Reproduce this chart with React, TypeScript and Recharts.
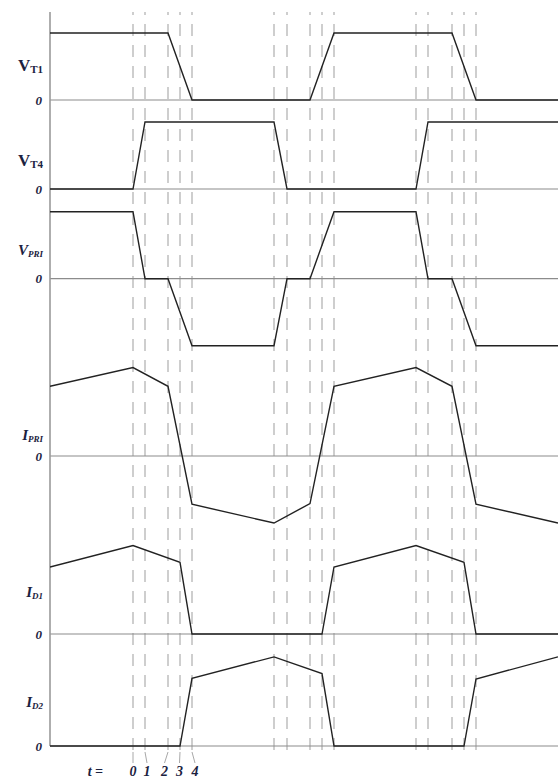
import React from 'react';
import { ComposedChart, Line, XAxis, YAxis, ReferenceLine } from 'recharts';

// ---------- data ----------
// time axis in arbitrary units, t0 of the first switching event = 0
const T_START = -83;
const T_END = 425;
const switchTimes = [0, 12, 35, 47, 59, 141, 154, 177, 189, 201, 283, 295, 319, 331, 343];
const instantLabels = ['0', '1', '2', '3', '4'];

const vT1 = [
  { t: -83, v: 1 }, { t: 35, v: 1 }, { t: 59, v: 0 }, { t: 177, v: 0 },
  { t: 201, v: 1 }, { t: 319, v: 1 }, { t: 343, v: 0 }, { t: 425, v: 0 },
];
const vT4 = [
  { t: -83, v: 0 }, { t: 0, v: 0 }, { t: 12, v: 1 }, { t: 141, v: 1 },
  { t: 154, v: 0 }, { t: 283, v: 0 }, { t: 295, v: 1 }, { t: 425, v: 1 },
];
const vPri = [
  { t: -83, v: 1 }, { t: 0, v: 1 }, { t: 12, v: 0 }, { t: 35, v: 0 }, { t: 59, v: -1 },
  { t: 141, v: -1 }, { t: 154, v: 0 }, { t: 177, v: 0 }, { t: 201, v: 1 },
  { t: 283, v: 1 }, { t: 295, v: 0 }, { t: 319, v: 0 }, { t: 343, v: -1 }, { t: 425, v: -1 },
];
const iPri = [
  { t: -83, v: 1.04 }, { t: 0, v: 1.32 }, { t: 35, v: 1.04 }, { t: 59, v: -0.72 },
  { t: 141, v: -1.0 }, { t: 177, v: -0.71 }, { t: 201, v: 1.04 }, { t: 283, v: 1.32 },
  { t: 319, v: 1.04 }, { t: 343, v: -0.72 }, { t: 425, v: -1.0 },
];
const iD1 = [
  { t: -83, v: 1.0 }, { t: 0, v: 1.32 }, { t: 47, v: 1.07 }, { t: 59, v: 0 },
  { t: 189, v: 0 }, { t: 201, v: 1.0 }, { t: 283, v: 1.32 }, { t: 331, v: 1.07 },
  { t: 343, v: 0 }, { t: 425, v: 0 },
];
const iD2 = [
  { t: -83, v: 0 }, { t: 47, v: 0 }, { t: 59, v: 1.01 }, { t: 141, v: 1.33 },
  { t: 189, v: 1.08 }, { t: 201, v: 0 }, { t: 331, v: 0 }, { t: 343, v: 1.0 },
  { t: 425, v: 1.33 },
];

// ---------- layout ----------
const W = 558;
const H = 779;
const PLOT_LEFT = 50;
const PLOT_TOP = 12;
const PLOT_BOTTOM = 750;
const PX_PER_UNIT = 67;
const LABEL_COLOR = '#1b2240';
const FONT = '"Liberation Serif", "DejaVu Serif", serif';

type Panel = {
  id: string;
  main: string;
  sub: string;
  italic: boolean;
  baseline: number; // pixel of zero line
  namePos: number; // value (units) at which the name sits
  data: { t: number; v: number }[];
};

const panels: Panel[] = [
  { id: 'vT1', main: 'V', sub: 'T1', italic: false, baseline: 100, namePos: 0.5, data: vT1 },
  { id: 'vT4', main: 'V', sub: 'T4', italic: false, baseline: 189, namePos: 0.42, data: vT4 },
  { id: 'vPri', main: 'V', sub: 'PRI', italic: true, baseline: 278.7, namePos: 0.43, data: vPri },
  { id: 'iPri', main: 'I', sub: 'PRI', italic: true, baseline: 456, namePos: 0.31, data: iPri },
  { id: 'iD1', main: 'I', sub: 'D1', italic: true, baseline: 634, namePos: 0.63, data: iD1 },
  { id: 'iD2', main: 'I', sub: 'D2', italic: true, baseline: 746, namePos: 0.66, data: iD2 },
];

const domainFor = (b: number): [number, number] => [
  -(PLOT_BOTTOM - b) / PX_PER_UNIT,
  (b - PLOT_TOP) / PX_PER_UNIT,
];

const makeZeroLabel = (p: Panel) => (props: any) => {
  const vb = props.viewBox || {};
  const x = (vb.x ?? PLOT_LEFT) - 8;
  const y = vb.y ?? 0;
  const ny = y - p.namePos * PX_PER_UNIT;
  return (
    <g>
      <text x={x} y={y} dy="0.36em" textAnchor="end" fontFamily={FONT} fontSize={13}
        fontWeight="bold" fontStyle="italic" fill={LABEL_COLOR}>0</text>
      <text x={x + 1} y={ny} dy="0.3em" textAnchor="end" fontFamily={FONT} fontWeight="bold"
        fontStyle={p.italic ? 'italic' : 'normal'} fill={LABEL_COLOR}>
        <tspan fontSize={p.italic ? 15 : 17}>{p.main}</tspan>
        <tspan fontSize={p.italic ? 9 : 11} dy={2}>{p.sub}</tspan>
      </text>
    </g>
  );
};

const labelDx = [0, 2, -3.5, -0.5, 3];

const makeInstantLabel = (i: number) => (props: any) => {
  const vb = props.viewBox || {};
  const x = vb.x ?? 0;
  const bottom = (vb.y ?? 0) + (vb.height ?? 0);
  const dx = labelDx[i];
  return (
    <g>
      <line x1={x} y1={bottom + 2} x2={x + dx} y2={bottom + 13} stroke="#a8a8a8" strokeWidth={1} />
      <text x={x + dx} y={bottom + 26} textAnchor="middle" fontFamily={FONT} fontSize={14}
        fontWeight="bold" fontStyle="italic" fill={LABEL_COLOR}>{instantLabels[i]}</text>
      {i === 0 && (
        <text x={x - 30} y={bottom + 26} textAnchor="end" fontFamily={FONT} fontSize={14}
          fontWeight="bold" fontStyle="italic" fill={LABEL_COLOR}>t =</text>
      )}
    </g>
  );
};

export default function App() {
  const last = panels[panels.length - 1];
  return (
    <div style={{ position: 'absolute', left: 0, top: 0, background: '#fff' }}>
      <ComposedChart
        width={W}
        height={H}
        margin={{ top: PLOT_TOP, right: 0, bottom: H - PLOT_BOTTOM, left: PLOT_LEFT }}
      >
        <XAxis type="number" dataKey="t" domain={[T_START, T_END]} allowDataOverflow hide />
        {panels.map((p) => (
          <YAxis
            key={p.id}
            yAxisId={p.id}
            type="number"
            domain={domainFor(p.baseline)}
            allowDataOverflow
            hide
          />
        ))}
        {switchTimes.map((t, i) => (
          <ReferenceLine
            key={'sw' + t}
            yAxisId="vT1"
            x={t}
            stroke="#c2c2c2"
            strokeWidth={1.6}
            strokeDasharray="12 9"
            label={i < 5 ? makeInstantLabel(i) : undefined}
          />
        ))}
        {panels.map((p) => (
          <ReferenceLine key={'z' + p.id} yAxisId={p.id} y={0} stroke="#8c8c8c" strokeWidth={1.2}
            label={makeZeroLabel(p)} />
        ))}
        <ReferenceLine
          yAxisId={last.id}
          ifOverflow="visible"
          segment={[
            { x: T_START, y: 0 },
            { x: T_START, y: (last.baseline - PLOT_TOP) / PX_PER_UNIT },
          ]}
          stroke="#9a9a9a"
          strokeWidth={1.6}
        />
        {panels.map((p) => (
          <Line
            key={'l' + p.id}
            yAxisId={p.id}
            data={p.data}
            dataKey="v"
            type="linear"
            dot={false}
            activeDot={false}
            stroke="#222"
            strokeWidth={1.4}
            isAnimationActive={false}
          />
        ))}
      </ComposedChart>
    </div>
  );
}
